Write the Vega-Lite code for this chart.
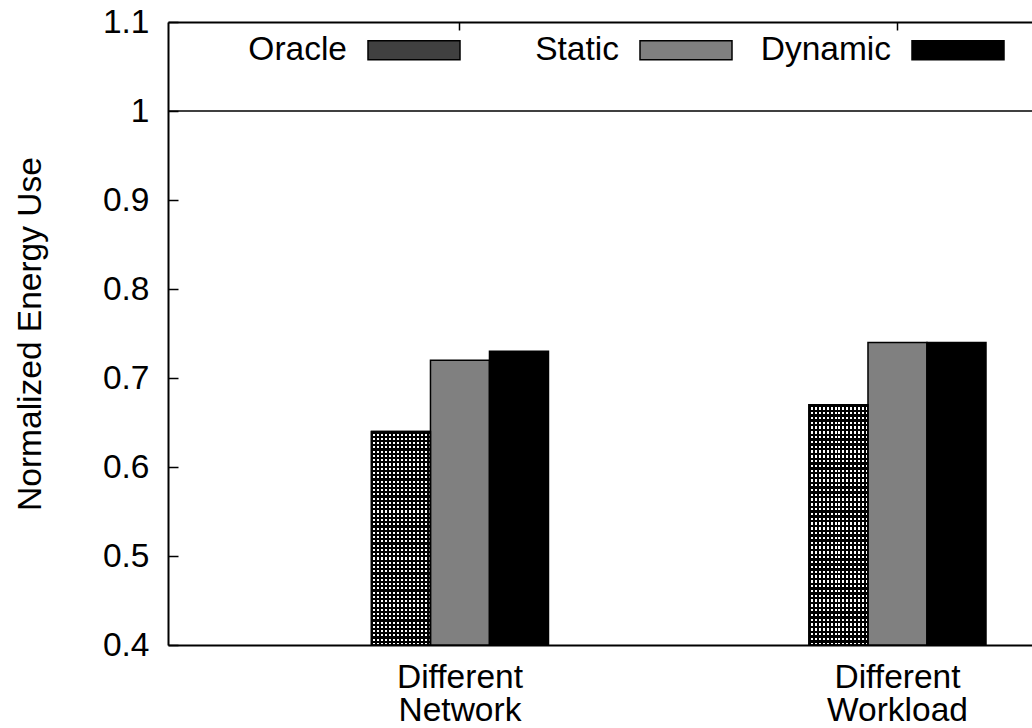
{
  "$schema": "https://vega.github.io/schema/vega-lite/v6.json",
  "width": 864,
  "height": 623,
  "autosize": {"type": "none"},
  "padding": {"left": 168, "top": 22, "right": 0, "bottom": 83},
  "background": "white",
  "config": {"view": {"stroke": null}, "font": "Liberation Sans"},
  "data": {
    "values": [
      {"group": "Different Network", "series": "Oracle", "value": 0.64},
      {"group": "Different Network", "series": "Static", "value": 0.72},
      {"group": "Different Network", "series": "Dynamic", "value": 0.73},
      {"group": "Different Workload", "series": "Oracle", "value": 0.67},
      {"group": "Different Workload", "series": "Static", "value": 0.74},
      {"group": "Different Workload", "series": "Dynamic", "value": 0.74}
    ]
  },
  "layer": [
    {
      "mark": {"type": "bar", "stroke": "black", "strokeWidth": 1.5},
      "encoding": {
        "x": {
          "field": "group", "type": "nominal",
          "scale": {"domain": ["Different Network", "Different Workload"], "paddingInner": 0.5954, "paddingOuter": 0.2851, "align": 0.8156},
          "axis": {"orient": "bottom", "title": null, "domainColor": "black", "domainWidth": 2, "ticks": false, "labelExpr": "split(datum.label, ' ')", "labelFontSize": 33.5, "labelColor": "black", "labelLineHeight": 33.5, "labelPadding": 16, "labelAngle": 0, "labelBaseline": "top"}
        },
        "xOffset": {"field": "series", "type": "nominal", "scale": {"domain": ["Oracle", "Static", "Dynamic"], "paddingInner": 0, "paddingOuter": 0}},
        "y": {
          "field": "value", "type": "quantitative",
          "scale": {"domain": [0.4, 1.1], "zero": false, "nice": false},
          "axis": {"title": "Normalized Energy Use", "values": [0.4, 0.5, 0.6, 0.7, 0.8, 0.9, 1, 1.1], "format": "~g", "grid": false, "labelFontSize": 33.5, "labelColor": "black", "titleFontSize": 33.5, "titleFontWeight": "normal", "titleColor": "black", "domainColor": "black", "domainWidth": 2, "tickColor": "black", "tickWidth": 1.5, "tickSize": -10, "labelPadding": 29, "titlePadding": 55}
        },
        "y2": {"datum": 0.4},
        "fill": {
          "field": "series", "type": "nominal",
          "scale": {"domain": ["Oracle", "Static", "Dynamic"], "range": ["#404040", "#808080", "#000000"]},
          "condition": {
            "test": "datum.series === 'Oracle'",
            "value": {"gradient": "linear", "x1": 0, "y1": 0, "x2": 1, "y2": 0, "stops": [
              {"offset": 0, "color": "#000"}, {"offset": 0.0333, "color": "#000"}, {"offset": 0.0333, "color": "#fff"}, {"offset": 0.0667, "color": "#fff"},
              {"offset": 0.0667, "color": "#000"}, {"offset": 0.1, "color": "#000"}, {"offset": 0.1, "color": "#fff"}, {"offset": 0.1333, "color": "#fff"},
              {"offset": 0.1333, "color": "#000"}, {"offset": 0.1667, "color": "#000"}, {"offset": 0.1667, "color": "#fff"}, {"offset": 0.2, "color": "#fff"},
              {"offset": 0.2, "color": "#000"}, {"offset": 0.2333, "color": "#000"}, {"offset": 0.2333, "color": "#fff"}, {"offset": 0.2667, "color": "#fff"},
              {"offset": 0.2667, "color": "#000"}, {"offset": 0.3, "color": "#000"}, {"offset": 0.3, "color": "#fff"}, {"offset": 0.3333, "color": "#fff"},
              {"offset": 0.3333, "color": "#000"}, {"offset": 0.3667, "color": "#000"}, {"offset": 0.3667, "color": "#fff"}, {"offset": 0.4, "color": "#fff"},
              {"offset": 0.4, "color": "#000"}, {"offset": 0.4333, "color": "#000"}, {"offset": 0.4333, "color": "#fff"}, {"offset": 0.4667, "color": "#fff"},
              {"offset": 0.4667, "color": "#000"}, {"offset": 0.5, "color": "#000"}, {"offset": 0.5, "color": "#fff"}, {"offset": 0.5333, "color": "#fff"},
              {"offset": 0.5333, "color": "#000"}, {"offset": 0.5667, "color": "#000"}, {"offset": 0.5667, "color": "#fff"}, {"offset": 0.6, "color": "#fff"},
              {"offset": 0.6, "color": "#000"}, {"offset": 0.6333, "color": "#000"}, {"offset": 0.6333, "color": "#fff"}, {"offset": 0.6667, "color": "#fff"},
              {"offset": 0.6667, "color": "#000"}, {"offset": 0.7, "color": "#000"}, {"offset": 0.7, "color": "#fff"}, {"offset": 0.7333, "color": "#fff"},
              {"offset": 0.7333, "color": "#000"}, {"offset": 0.7667, "color": "#000"}, {"offset": 0.7667, "color": "#fff"}, {"offset": 0.8, "color": "#fff"},
              {"offset": 0.8, "color": "#000"}, {"offset": 0.8333, "color": "#000"}, {"offset": 0.8333, "color": "#fff"}, {"offset": 0.8667, "color": "#fff"},
              {"offset": 0.8667, "color": "#000"}, {"offset": 0.9, "color": "#000"}, {"offset": 0.9, "color": "#fff"}, {"offset": 0.9333, "color": "#fff"},
              {"offset": 0.9333, "color": "#000"}, {"offset": 0.9667, "color": "#000"}, {"offset": 0.9667, "color": "#fff"}, {"offset": 1, "color": "#fff"}
            ]}
          },
          "legend": {
            "orient": "none", "legendX": 199, "legendY": -19, "direction": "horizontal", "title": null, "padding": 0,
            "symbolType": "M-4.5,0ZM-1,-0.2065H1V0.2065H-1Z", "symbolSize": 8464, "symbolStrokeColor": "black", "symbolStrokeWidth": 1.5, "symbolOpacity": 1,
            "labelFontSize": 33.5, "labelColor": "black", "labelAlign": "right", "labelOffset": -114, "labelBaseline": "middle", "columnPadding": 13, "gridAlign": "all", "labelLimit": 300,
            "encode": {"symbols": {"update": {
              "stroke": {"value": "black"},
              "strokeWidth": {"value": 1.5},
              "fill": {"scale": "fill", "field": "value"}
            }}}
          }
        }
      }
    },
    {
      "transform": [{"filter": "datum.series === 'Oracle'"}],
      "mark": {"type": "bar", "stroke": "black", "strokeWidth": 1.5, "fill": {"gradient": "linear", "x1": 0, "y1": 0, "x2": 0, "y2": 1, "stops": [
        {"offset": 0, "color": "#000"}, {"offset": 0.01, "color": "#000"}, {"offset": 0.01, "color": "rgba(0,0,0,0)"}, {"offset": 0.02, "color": "rgba(0,0,0,0)"},
        {"offset": 0.02, "color": "#000"}, {"offset": 0.03, "color": "#000"}, {"offset": 0.03, "color": "rgba(0,0,0,0)"}, {"offset": 0.04, "color": "rgba(0,0,0,0)"},
        {"offset": 0.04, "color": "#000"}, {"offset": 0.05, "color": "#000"}, {"offset": 0.05, "color": "rgba(0,0,0,0)"}, {"offset": 0.06, "color": "rgba(0,0,0,0)"},
        {"offset": 0.06, "color": "#000"}, {"offset": 0.07, "color": "#000"}, {"offset": 0.07, "color": "rgba(0,0,0,0)"}, {"offset": 0.08, "color": "rgba(0,0,0,0)"},
        {"offset": 0.08, "color": "#000"}, {"offset": 0.09, "color": "#000"}, {"offset": 0.09, "color": "rgba(0,0,0,0)"}, {"offset": 0.1, "color": "rgba(0,0,0,0)"},
        {"offset": 0.1, "color": "#000"}, {"offset": 0.11, "color": "#000"}, {"offset": 0.11, "color": "rgba(0,0,0,0)"}, {"offset": 0.12, "color": "rgba(0,0,0,0)"},
        {"offset": 0.12, "color": "#000"}, {"offset": 0.13, "color": "#000"}, {"offset": 0.13, "color": "rgba(0,0,0,0)"}, {"offset": 0.14, "color": "rgba(0,0,0,0)"},
        {"offset": 0.14, "color": "#000"}, {"offset": 0.15, "color": "#000"}, {"offset": 0.15, "color": "rgba(0,0,0,0)"}, {"offset": 0.16, "color": "rgba(0,0,0,0)"},
        {"offset": 0.16, "color": "#000"}, {"offset": 0.17, "color": "#000"}, {"offset": 0.17, "color": "rgba(0,0,0,0)"}, {"offset": 0.18, "color": "rgba(0,0,0,0)"},
        {"offset": 0.18, "color": "#000"}, {"offset": 0.19, "color": "#000"}, {"offset": 0.19, "color": "rgba(0,0,0,0)"}, {"offset": 0.2, "color": "rgba(0,0,0,0)"},
        {"offset": 0.2, "color": "#000"}, {"offset": 0.21, "color": "#000"}, {"offset": 0.21, "color": "rgba(0,0,0,0)"}, {"offset": 0.22, "color": "rgba(0,0,0,0)"},
        {"offset": 0.22, "color": "#000"}, {"offset": 0.23, "color": "#000"}, {"offset": 0.23, "color": "rgba(0,0,0,0)"}, {"offset": 0.24, "color": "rgba(0,0,0,0)"},
        {"offset": 0.24, "color": "#000"}, {"offset": 0.25, "color": "#000"}, {"offset": 0.25, "color": "rgba(0,0,0,0)"}, {"offset": 0.26, "color": "rgba(0,0,0,0)"},
        {"offset": 0.26, "color": "#000"}, {"offset": 0.27, "color": "#000"}, {"offset": 0.27, "color": "rgba(0,0,0,0)"}, {"offset": 0.28, "color": "rgba(0,0,0,0)"},
        {"offset": 0.28, "color": "#000"}, {"offset": 0.29, "color": "#000"}, {"offset": 0.29, "color": "rgba(0,0,0,0)"}, {"offset": 0.3, "color": "rgba(0,0,0,0)"},
        {"offset": 0.3, "color": "#000"}, {"offset": 0.31, "color": "#000"}, {"offset": 0.31, "color": "rgba(0,0,0,0)"}, {"offset": 0.32, "color": "rgba(0,0,0,0)"},
        {"offset": 0.32, "color": "#000"}, {"offset": 0.33, "color": "#000"}, {"offset": 0.33, "color": "rgba(0,0,0,0)"}, {"offset": 0.34, "color": "rgba(0,0,0,0)"},
        {"offset": 0.34, "color": "#000"}, {"offset": 0.35, "color": "#000"}, {"offset": 0.35, "color": "rgba(0,0,0,0)"}, {"offset": 0.36, "color": "rgba(0,0,0,0)"},
        {"offset": 0.36, "color": "#000"}, {"offset": 0.37, "color": "#000"}, {"offset": 0.37, "color": "rgba(0,0,0,0)"}, {"offset": 0.38, "color": "rgba(0,0,0,0)"},
        {"offset": 0.38, "color": "#000"}, {"offset": 0.39, "color": "#000"}, {"offset": 0.39, "color": "rgba(0,0,0,0)"}, {"offset": 0.4, "color": "rgba(0,0,0,0)"},
        {"offset": 0.4, "color": "#000"}, {"offset": 0.41, "color": "#000"}, {"offset": 0.41, "color": "rgba(0,0,0,0)"}, {"offset": 0.42, "color": "rgba(0,0,0,0)"},
        {"offset": 0.42, "color": "#000"}, {"offset": 0.43, "color": "#000"}, {"offset": 0.43, "color": "rgba(0,0,0,0)"}, {"offset": 0.44, "color": "rgba(0,0,0,0)"},
        {"offset": 0.44, "color": "#000"}, {"offset": 0.45, "color": "#000"}, {"offset": 0.45, "color": "rgba(0,0,0,0)"}, {"offset": 0.46, "color": "rgba(0,0,0,0)"},
        {"offset": 0.46, "color": "#000"}, {"offset": 0.47, "color": "#000"}, {"offset": 0.47, "color": "rgba(0,0,0,0)"}, {"offset": 0.48, "color": "rgba(0,0,0,0)"},
        {"offset": 0.48, "color": "#000"}, {"offset": 0.49, "color": "#000"}, {"offset": 0.49, "color": "rgba(0,0,0,0)"}, {"offset": 0.5, "color": "rgba(0,0,0,0)"},
        {"offset": 0.5, "color": "#000"}, {"offset": 0.51, "color": "#000"}, {"offset": 0.51, "color": "rgba(0,0,0,0)"}, {"offset": 0.52, "color": "rgba(0,0,0,0)"},
        {"offset": 0.52, "color": "#000"}, {"offset": 0.53, "color": "#000"}, {"offset": 0.53, "color": "rgba(0,0,0,0)"}, {"offset": 0.54, "color": "rgba(0,0,0,0)"},
        {"offset": 0.54, "color": "#000"}, {"offset": 0.55, "color": "#000"}, {"offset": 0.55, "color": "rgba(0,0,0,0)"}, {"offset": 0.56, "color": "rgba(0,0,0,0)"},
        {"offset": 0.56, "color": "#000"}, {"offset": 0.57, "color": "#000"}, {"offset": 0.57, "color": "rgba(0,0,0,0)"}, {"offset": 0.58, "color": "rgba(0,0,0,0)"},
        {"offset": 0.58, "color": "#000"}, {"offset": 0.59, "color": "#000"}, {"offset": 0.59, "color": "rgba(0,0,0,0)"}, {"offset": 0.6, "color": "rgba(0,0,0,0)"},
        {"offset": 0.6, "color": "#000"}, {"offset": 0.61, "color": "#000"}, {"offset": 0.61, "color": "rgba(0,0,0,0)"}, {"offset": 0.62, "color": "rgba(0,0,0,0)"},
        {"offset": 0.62, "color": "#000"}, {"offset": 0.63, "color": "#000"}, {"offset": 0.63, "color": "rgba(0,0,0,0)"}, {"offset": 0.64, "color": "rgba(0,0,0,0)"},
        {"offset": 0.64, "color": "#000"}, {"offset": 0.65, "color": "#000"}, {"offset": 0.65, "color": "rgba(0,0,0,0)"}, {"offset": 0.66, "color": "rgba(0,0,0,0)"},
        {"offset": 0.66, "color": "#000"}, {"offset": 0.67, "color": "#000"}, {"offset": 0.67, "color": "rgba(0,0,0,0)"}, {"offset": 0.68, "color": "rgba(0,0,0,0)"},
        {"offset": 0.68, "color": "#000"}, {"offset": 0.69, "color": "#000"}, {"offset": 0.69, "color": "rgba(0,0,0,0)"}, {"offset": 0.7, "color": "rgba(0,0,0,0)"},
        {"offset": 0.7, "color": "#000"}, {"offset": 0.71, "color": "#000"}, {"offset": 0.71, "color": "rgba(0,0,0,0)"}, {"offset": 0.72, "color": "rgba(0,0,0,0)"},
        {"offset": 0.72, "color": "#000"}, {"offset": 0.73, "color": "#000"}, {"offset": 0.73, "color": "rgba(0,0,0,0)"}, {"offset": 0.74, "color": "rgba(0,0,0,0)"},
        {"offset": 0.74, "color": "#000"}, {"offset": 0.75, "color": "#000"}, {"offset": 0.75, "color": "rgba(0,0,0,0)"}, {"offset": 0.76, "color": "rgba(0,0,0,0)"},
        {"offset": 0.76, "color": "#000"}, {"offset": 0.77, "color": "#000"}, {"offset": 0.77, "color": "rgba(0,0,0,0)"}, {"offset": 0.78, "color": "rgba(0,0,0,0)"},
        {"offset": 0.78, "color": "#000"}, {"offset": 0.79, "color": "#000"}, {"offset": 0.79, "color": "rgba(0,0,0,0)"}, {"offset": 0.8, "color": "rgba(0,0,0,0)"},
        {"offset": 0.8, "color": "#000"}, {"offset": 0.81, "color": "#000"}, {"offset": 0.81, "color": "rgba(0,0,0,0)"}, {"offset": 0.82, "color": "rgba(0,0,0,0)"},
        {"offset": 0.82, "color": "#000"}, {"offset": 0.83, "color": "#000"}, {"offset": 0.83, "color": "rgba(0,0,0,0)"}, {"offset": 0.84, "color": "rgba(0,0,0,0)"},
        {"offset": 0.84, "color": "#000"}, {"offset": 0.85, "color": "#000"}, {"offset": 0.85, "color": "rgba(0,0,0,0)"}, {"offset": 0.86, "color": "rgba(0,0,0,0)"},
        {"offset": 0.86, "color": "#000"}, {"offset": 0.87, "color": "#000"}, {"offset": 0.87, "color": "rgba(0,0,0,0)"}, {"offset": 0.88, "color": "rgba(0,0,0,0)"},
        {"offset": 0.88, "color": "#000"}, {"offset": 0.89, "color": "#000"}, {"offset": 0.89, "color": "rgba(0,0,0,0)"}, {"offset": 0.9, "color": "rgba(0,0,0,0)"},
        {"offset": 0.9, "color": "#000"}, {"offset": 0.91, "color": "#000"}, {"offset": 0.91, "color": "rgba(0,0,0,0)"}, {"offset": 0.92, "color": "rgba(0,0,0,0)"},
        {"offset": 0.92, "color": "#000"}, {"offset": 0.93, "color": "#000"}, {"offset": 0.93, "color": "rgba(0,0,0,0)"}, {"offset": 0.94, "color": "rgba(0,0,0,0)"},
        {"offset": 0.94, "color": "#000"}, {"offset": 0.95, "color": "#000"}, {"offset": 0.95, "color": "rgba(0,0,0,0)"}, {"offset": 0.96, "color": "rgba(0,0,0,0)"},
        {"offset": 0.96, "color": "#000"}, {"offset": 0.97, "color": "#000"}, {"offset": 0.97, "color": "rgba(0,0,0,0)"}, {"offset": 0.98, "color": "rgba(0,0,0,0)"},
        {"offset": 0.98, "color": "#000"}, {"offset": 0.99, "color": "#000"}, {"offset": 0.99, "color": "rgba(0,0,0,0)"}, {"offset": 1, "color": "rgba(0,0,0,0)"}
      ]}},
      "encoding": {
        "x": {"field": "group", "type": "nominal", "axis": {"orient": "top", "title": null, "labels": false, "domainColor": "black", "domainWidth": 2, "tickColor": "black", "tickWidth": 1.5, "tickSize": -8}},
        "xOffset": {"field": "series", "type": "nominal"},
        "y": {"field": "value", "type": "quantitative"},
        "y2": {"datum": 0.4}
      }
    },
    {
      "data": {"values": [{"ref": 1}]},
      "mark": {"type": "rule", "color": "black", "strokeWidth": 1.5},
      "encoding": {"y": {"field": "ref", "type": "quantitative"}}
    }
  ]
}
